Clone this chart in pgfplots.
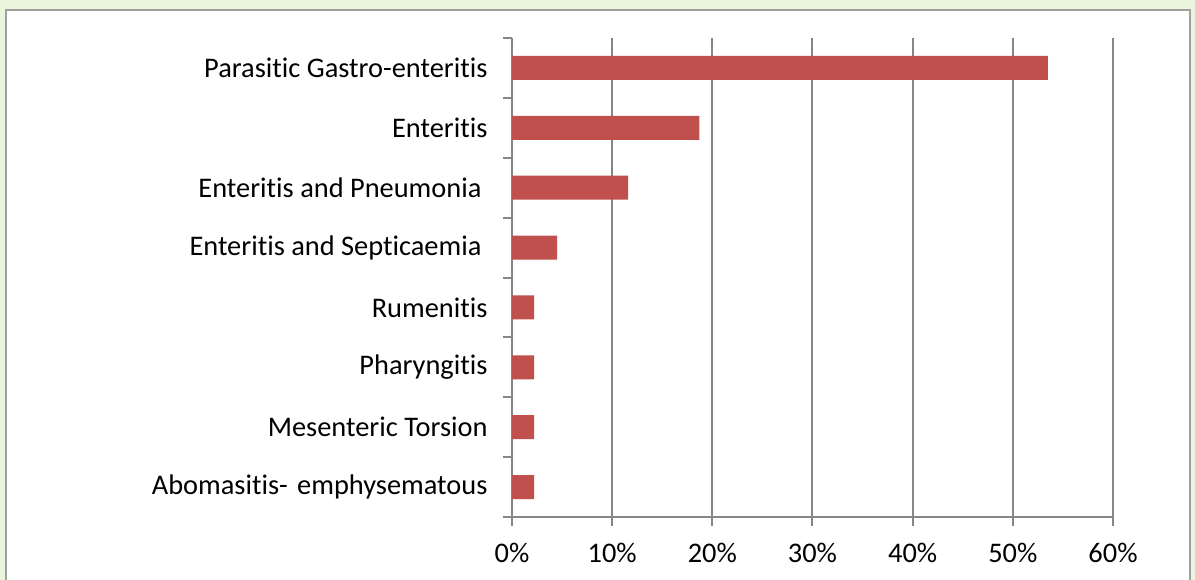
\documentclass[border=0pt]{standalone}
\usepackage{pgfplots}
\pgfplotsset{compat=1.18}
\usepackage{fontspec}
\setmainfont{Carlito}[Ligatures={NoCommon}]
\definecolor{bg}{HTML}{EAF5DD}
\definecolor{barred}{HTML}{C0504D}
\definecolor{gridg}{HTML}{868686}
\definecolor{frameg}{HTML}{A0A0A0}
\begin{document}
\begin{tikzpicture}[x=1bp,y=1bp]
\useasboundingbox (-512,-63) rectangle (683,517);
\clip (-512,-63) rectangle (683,517);
\fill[bg] (-512,-63) rectangle (683,517);
\filldraw[fill=white,draw=frameg,line width=2bp] (-506,-90) rectangle (678,507);
\begin{axis}[
  at={(0,0)}, anchor=south west,
  scale only axis, width=601bp, height=479bp,
  xbar, bar width=24bp,
  xmin=0, xmax=60, ymin=-0.5, ymax=7.5,
  y dir=reverse,
  axis x line*=bottom, axis y line*=left,
  axis line style={-, draw=gridg, line width=2bp},
  xtick={0,10,...,60},
  xticklabels={0\%,10\%,20\%,30\%,40\%,50\%,60\%},
  ytick={0,...,7},
  yticklabels={Parasitic Gastro-enteritis,Enteritis,Enteritis and Pneumonia\rule{6bp}{0pt},Enteritis and Septicaemia\rule{6bp}{0pt},Rumenitis,Pharyngitis,Mesenteric Torsion,Abomasitis-\hspace{3bp} emphysematous},
  minor ytick={-0.5,0.5,...,7.5},
  tick align=outside,
  major tick length=9bp, minor tick length=9bp,
  y tick style={draw=none},
  minor y tick style={draw=gridg, line width=2bp},
  x tick style={draw=gridg, line width=2bp},
  xmajorgrids,
  major x grid style={draw=gridg, line width=2bp},
  tick label style={font=\fontsize{28.5}{34}\selectfont, text=black},
  yticklabel style={xshift=-12bp},
  xticklabel style={yshift=-14bp},
  clip=false,
]
\addplot[fill=barred, draw=none] coordinates {
(53.5,0) (18.7,1) (11.6,2) (4.5,3) (2.2,4) (2.2,5) (2.2,6) (2.2,7)};
\end{axis}
\end{tikzpicture}
\end{document}
